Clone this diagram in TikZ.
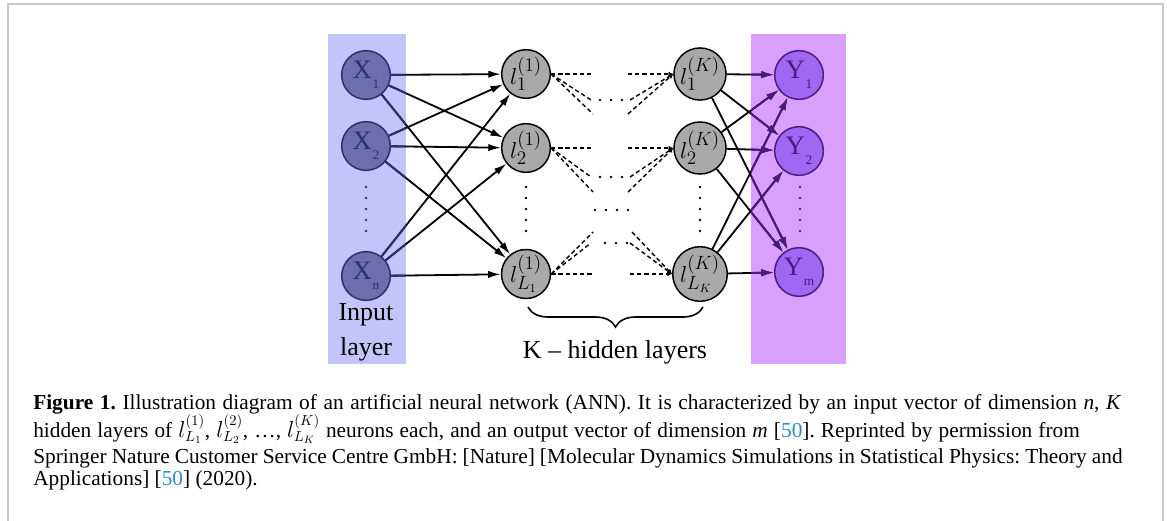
\documentclass[tikz,border=0pt]{standalone}
\usepackage{fontspec}
\setmainfont{Liberation Serif}
\usetikzlibrary{arrows.meta,decorations.pathreplacing}
\pgfdeclarelayer{back}\pgfdeclarelayer{mid}\pgfsetlayers{back,mid,main}
\definecolor{inbg}{HTML}{C4C4FA}
\definecolor{xfill}{HTML}{6E6EAE}
\definecolor{xdark}{HTML}{2E2E6E}
\definecolor{hfill}{HTML}{A9A9A9}
\definecolor{outbg}{HTML}{D8A0FB}
\definecolor{yfill}{HTML}{A067F2}
\definecolor{ydark}{HTML}{4A1A7E}
\definecolor{framec}{HTML}{C8C8C8}
\definecolor{linkc}{HTML}{2A8CCB}
\newcommand\mynlab[2]{\fontsize{20}{20}\selectfont #1\hspace{0.5pt}\raisebox{-7.5pt}{\fontsize{10}{10}\selectfont #2}}
\newcommand\myhlab[2]{\fontsize{19}{19}\selectfont$l^{(#1)}_{#2}$}
\frenchspacing
\begin{document}
\begin{tikzpicture}[x=0.75pt,y=-0.75pt,
 neuron/.style={circle,minimum size=36.5pt,inner sep=0pt,line width=1.1pt},
 xnode/.style={neuron,draw=xdark,fill=xfill,text=xdark},
 hnode/.style={neuron,draw=black,fill=hfill},
 ynode/.style={neuron,draw=ydark,fill=yfill,text=ydark},
 conn/.style={line width=1.35pt,-{Latex[length=9.5pt,width=5.5pt]}},
 dsh/.style={line width=1.05pt,dash pattern=on 3.2pt off 2.2pt},
 dsharr/.style={dsh,-{Latex[length=3.5pt,width=3.5pt]}},
 lbl/.style={inner sep=0pt,anchor=base,font=\fontsize{19.5}{20}\selectfont},
 captxt/.style={anchor=base west,inner sep=0pt,font=\fontsize{16}{18}\selectfont}]
\useasboundingbox (0,0) rectangle (1167,521);
% layer backgrounds
\begin{pgfonlayer}{back}
\fill[white] (0,0) rectangle (1167,521);
\fill[inbg] (328,34) rectangle (406,364);
\fill[outbg] (751,34) rectangle (846,364);
\end{pgfonlayer}
% frame
\draw[framec,line width=1.5pt] (8,521) -- (8,4) -- (1163,4) -- (1163,521);
% nodes
\node[xnode] (x1) at (366,75) {\mynlab{X}{1}};
\node[xnode] (x2) at (366,146) {\mynlab{X}{2}};
\node[xnode] (xn) at (366,276) {\mynlab{X}{n}};
\node[hnode] (h1) at (526,74) {\myhlab{1}{1}};
\node[hnode] (h2) at (526,148) {\myhlab{1}{2}};
\node[hnode] (hL) at (526,274) {\myhlab{1}{L_1}};
\node[hnode] (k1) at (700,74) {\myhlab{K}{1}};
\node[hnode] (k2) at (700,148) {\myhlab{K}{2}};
\node[hnode] (kL) at (700,274) {\myhlab{K}{L_K}};
\node[ynode] (y1) at (799,75) {\mynlab{Y}{1}};
\node[ynode] (y2) at (799,151) {\mynlab{Y}{2}};
\node[ynode] (ym) at (799,272) {\mynlab{Y}{m}};
% connectors
\begin{pgfonlayer}{mid}
\foreach \a in {x1,x2,xn}{\foreach \b in {h1,h2,hL}{\draw[conn] (\a) -- (\b);}}
\foreach \a in {k1,k2,kL}{\foreach \b in {y1,y2,ym}{\draw[conn] (\a) -- (\b);}}
\begin{scope}
\clip (328,34) rectangle (406,364);
\foreach \a in {x1,x2,xn}{\foreach \b in {h1,h2,hL}{\draw[conn,xdark,line width=1.5pt] (\a) -- (\b);}}
\end{scope}
\begin{scope}
\clip (751,34) rectangle (846,364);
\foreach \a in {k1,k2,kL}{\foreach \b in {y1,y2,ym}{\draw[conn,ydark,line width=1.5pt] (\a) -- (\b);}}
\end{scope}
% dashed partial connections
\coordinate (r1a) at (593,74);  \coordinate (r1b) at (591,100); \coordinate (r1c) at (593,114);
\coordinate (s1a) at (628,74);  \coordinate (s1b) at (630,100); \coordinate (s1c) at (628,114);
\coordinate (r2a) at (593,148); \coordinate (r2b) at (591,177); \coordinate (r2c) at (593,192);
\coordinate (s2a) at (628,148); \coordinate (s2b) at (630,177); \coordinate (s2c) at (628,192);
\coordinate (rLa) at (593,274); \coordinate (rLb) at (591,243); \coordinate (rLc) at (593,232);
\coordinate (sLa) at (630,274); \coordinate (sLb) at (630,243); \coordinate (sLc) at (632,232);
\foreach \t in {a,b,c}{
  \draw[dsh] (h1.east) -- (r1\t);
  \draw[dsh] (h2.east) -- (r2\t);
  \draw[dsh] (hL.east) -- (rL\t);
  \draw[dsharr] (s1\t) -- (k1.west);
  \draw[dsharr] (s2\t) -- (k2.west);
  \draw[dsharr] (sL\t) -- (kL.west);
}
\end{pgfonlayer}
% dots
\foreach \yy in {187,198,209,220,231}{
  \fill[xdark] (366,\yy) circle (1.1pt);
  \fill (526,\yy) circle (1.1pt);
  \fill (700,\yy) circle (1.1pt);
  \fill[ydark] (800,\yy) circle (1.1pt);
}
\foreach \xx in {600,611,622}{\fill (\xx,100) circle (0.95pt); \fill (\xx,177) circle (0.95pt);}
\foreach \xx in {605,616,627}{\fill (\xx,243) circle (0.95pt);}
\foreach \xx in {595,606,617,628}{\fill (\xx,210) circle (0.95pt);}
% labels
\node[lbl] (inp) at (366,320) {Input};
\node[lbl] (lay) at (366,355) {layer};
\coordinate (bR) at (703,307);
\coordinate (bL) at (528,307);
\draw[decorate,decoration={brace,amplitude=15pt},line width=1.2pt] (bR) -- (bL);
\node[lbl] (khid) at (615,358) {K -- hidden layers};
% caption
\node[captxt] (cap1) at (33,409) {\makebox[816pt][s]{\textbf{Figure 1.} Illustration diagram of an artificial neural network (ANN). It is characterized by an input vector of dimension \textit{n}, \textit{K}}};
\node[captxt] (cap2) at (33,437) {\makebox[785pt][s]{hidden layers of $l^{(1)}_{L_1}$, $l^{(2)}_{L_2}$, \ldots, $l^{(K)}_{L_K}$ neurons each, and an output vector of dimension \textit{m} [\textcolor{linkc}{50}]. Reprinted by permission from}};
\node[captxt] (cap3) at (33,463) {\makebox[817pt][s]{Springer Nature Customer Service Centre GmbH: [Nature] [Molecular Dynamics Simulations in Statistical Physics: Theory and}};
\node[captxt] (cap4) at (33,485) {Applications] [\textcolor{linkc}{50}] (2020).};
\end{tikzpicture}
\end{document}
